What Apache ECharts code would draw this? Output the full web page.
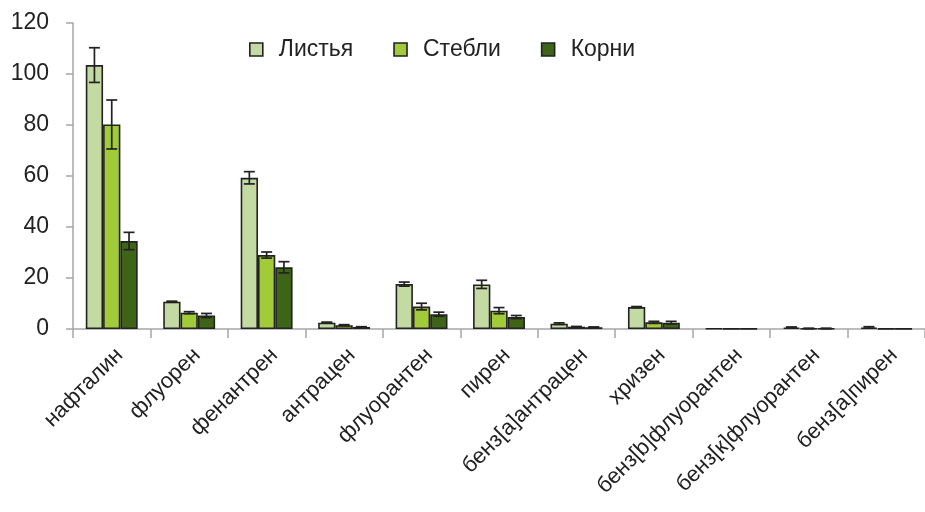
<!DOCTYPE html>
<html>
<head>
<meta charset="utf-8">
<script src="https://cdn.jsdelivr.net/npm/echarts@6/dist/echarts.min.js"></script>
<style>
  html, body { margin: 0; padding: 0; background: #fff; }
  #chart { width: 925px; height: 512px; }
</style>
</head>
<body>
<div id="chart"></div>
<script>
// ПАУ в органах растений: средние значения и погрешности
var categories = ['нафталин', 'флуорен', 'фенантрен', 'антрацен', 'флуорантен', 'пирен',
  'бенз[а]антрацен', 'хризен', 'бенз[b]флуорантен', 'бенз[к]флуорантен', 'бенз[а]пирен'];
var seriesNames = ['Листья', 'Стебли', 'Корни'];
var leaves    = [103.5, 10.7, 59.3, 2.5, 17.6, 17.5, 2.1, 8.6, 0.2, 0.6, 0.6];
var leavesErr = [6.8, 0.2, 2.4, 0.2, 0.8, 1.6, 0.3, 0.2, 0, 0.2, 0.3];
var stems     = [80.2, 6.4, 29.0, 1.5, 8.8, 7.2, 0.9, 2.6, 0.1, 0.2, 0.1];
var stemsErr  = [9.6, 0.4, 1.2, 0.2, 1.3, 1.2, 0.1, 0.4, 0, 0.1, 0];
var roots     = [34.5, 5.3, 24.2, 0.8, 5.8, 4.7, 0.7, 2.5, 0.1, 0.2, 0.1];
var rootsErr  = [3.4, 0.8, 2.2, 0.1, 0.8, 0.6, 0.1, 0.5, 0, 0.1, 0];
var yTicks = { min: 0, max: 120, interval: 20 };

var colors = ['#c3daa2', '#a2cb39', '#3e6418'];
var values = [leaves, stems, roots];
var errors = [leavesErr, stemsErr, rootsErr];
var BAR_W = 17.3;
var FONT = 'Liberation Sans, Arial, sans-serif';

var chart = echarts.init(document.getElementById('chart'), null, { renderer: 'canvas' });

var series = [];
values.forEach(function (vals, s) {
  series.push({
    name: seriesNames[s],
    type: 'bar',
    data: vals,
    barWidth: BAR_W,
    barGap: '0%',
    itemStyle: { color: colors[s], borderColor: '#222', borderWidth: 1.6 },
    z: 2
  });
});

// Погрешности: вертикальная линия с засечками над каждым столбцом
values.forEach(function (vals, s) {
  var data = vals.map(function (v, i) { return [i, v, errors[s][i]]; });
  series.push({
    type: 'custom',
    name: seriesNames[s] + '-err',
    data: data,
    z: 5,
    silent: true,
    renderItem: function (params, api) {
      var i = api.value(0), v = api.value(1), e = api.value(2);
      if (!e) return null;
      var off = (s - 1) * BAR_W;
      var top = api.coord([i, v + e]);
      var bot = api.coord([i, v - e]);
      var x = top[0] + off;
      var cap = 5.5;
      var st = { stroke: '#222', lineWidth: 1.7 };
      return {
        type: 'group',
        children: [
          { type: 'line', shape: { x1: x, y1: top[1], x2: x, y2: bot[1] }, style: st },
          { type: 'line', shape: { x1: x - cap, y1: top[1], x2: x + cap, y2: top[1] }, style: st },
          { type: 'line', shape: { x1: x - cap, y1: bot[1], x2: x + cap, y2: bot[1] }, style: st }
        ]
      };
    },
    encode: { x: 0, y: 1 }
  });
});

chart.setOption({
  animation: false,
  backgroundColor: '#fff',
  grid: { left: 73, top: 23, width: 862, height: 306, containLabel: false },
  legend: {
    data: seriesNames,
    left: 244,
    top: 33,
    itemWidth: 13,
    itemHeight: 13,
    itemGap: 40,
    icon: 'rect',
    itemStyle: { borderColor: '#222', borderWidth: 1.6 },
    textStyle: { fontFamily: FONT, fontSize: 23, color: '#222', padding: [0, 0, 0, 11] }
  },
  xAxis: {
    type: 'category',
    data: categories,
    axisLine: { lineStyle: { color: '#a6a6a6', width: 1.5 } },
    axisTick: { show: true, length: 9, lineStyle: { color: '#a6a6a6', width: 1.5 } },
    axisLabel: {
      rotate: 45, interval: 0, margin: 15,
      align: 'right', verticalAlign: 'top',
      fontFamily: FONT, fontSize: 22, color: '#222'
    }
  },
  yAxis: {
    type: 'value',
    min: yTicks.min, max: yTicks.max, interval: yTicks.interval,
    splitLine: { show: false },
    axisLine: { show: true, lineStyle: { color: '#a6a6a6', width: 1.5 } },
    axisTick: { show: true, length: 7, lineStyle: { color: '#a6a6a6', width: 1.5 } },
    axisLabel: { margin: 24, fontFamily: FONT, fontSize: 23, color: '#222' }
  },
  series: series
});
</script>
</body>
</html>
